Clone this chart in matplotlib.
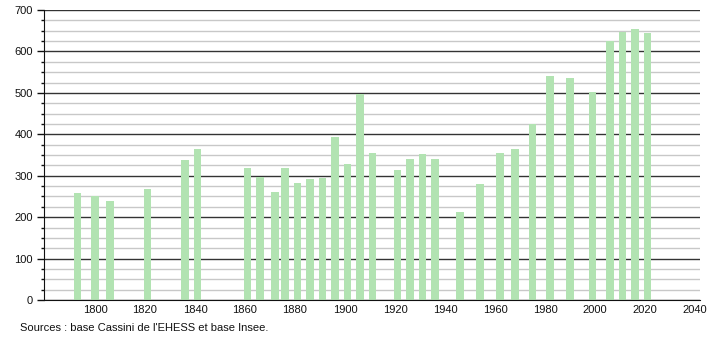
import matplotlib
matplotlib.use("Agg")
import matplotlib.pyplot as plt
from matplotlib.ticker import MultipleLocator

years = [1793, 1800, 1806, 1821, 1836, 1841, 1861, 1866, 1872, 1876, 1881, 1886,
         1891, 1896, 1901, 1906, 1911, 1921, 1926, 1931, 1936, 1946, 1954, 1962,
         1968, 1975, 1982, 1990, 1999, 2006, 2011, 2016, 2021]
population = [259, 251, 240, 268, 338, 364, 318, 298, 260, 318, 282, 292,
              294, 394, 329, 497, 356, 314, 340, 352, 340, 212, 280, 356,
              364, 426, 541, 535, 501, 625, 647, 653, 644]
x_ticks = [1800, 1820, 1840, 1860, 1880, 1900, 1920, 1940, 1960, 1980, 2000, 2020, 2040]
y_ticks = [0, 100, 200, 300, 400, 500, 600, 700]
source = "Sources : base Cassini de l'EHESS et base Insee."

plt.rcParams['font.family'] = ['Liberation Sans', 'DejaVu Sans']

fig = plt.figure(figsize=(7.1, 3.4), dpi=100)
ax = fig.add_axes([44/710, 40/340, 656/710, 290/340])

ax.set_xlim(1779.6, 2042)
ax.set_ylim(0, 700)

ax.yaxis.set_minor_locator(MultipleLocator(25))
ax.set_yticks(y_ticks)
ax.set_xticks(x_ticks)

ax.grid(axis='y', which='minor', color='#c8c8c8', linewidth=1.0, zorder=0)
ax.grid(axis='y', which='major', color='#333333', linewidth=1.0, zorder=0)

ax.bar(years, population, width=3.1, color='#b2e3b2', zorder=2)

for s in ['top', 'right']:
    ax.spines[s].set_visible(False)
ax.spines['left'].set_color('#111111')
ax.spines['bottom'].set_color('#111111')
ax.spines['left'].set_zorder(3)
ax.spines['bottom'].set_zorder(3)

ax.tick_params(axis='y', which='major', length=5, width=1, direction='out',
               labelsize=8, colors='#111111', pad=3)
ax.tick_params(axis='y', which='minor', length=2, width=1, direction='out', colors='#111111')
ax.tick_params(axis='x', which='both', length=0, labelsize=8, colors='#111111', pad=3.5)

fig.text(20/710, 1 - 328/340, source, fontsize=8, color='#111111', va='center', ha='left')

fig.savefig("out.png", dpi=100)
